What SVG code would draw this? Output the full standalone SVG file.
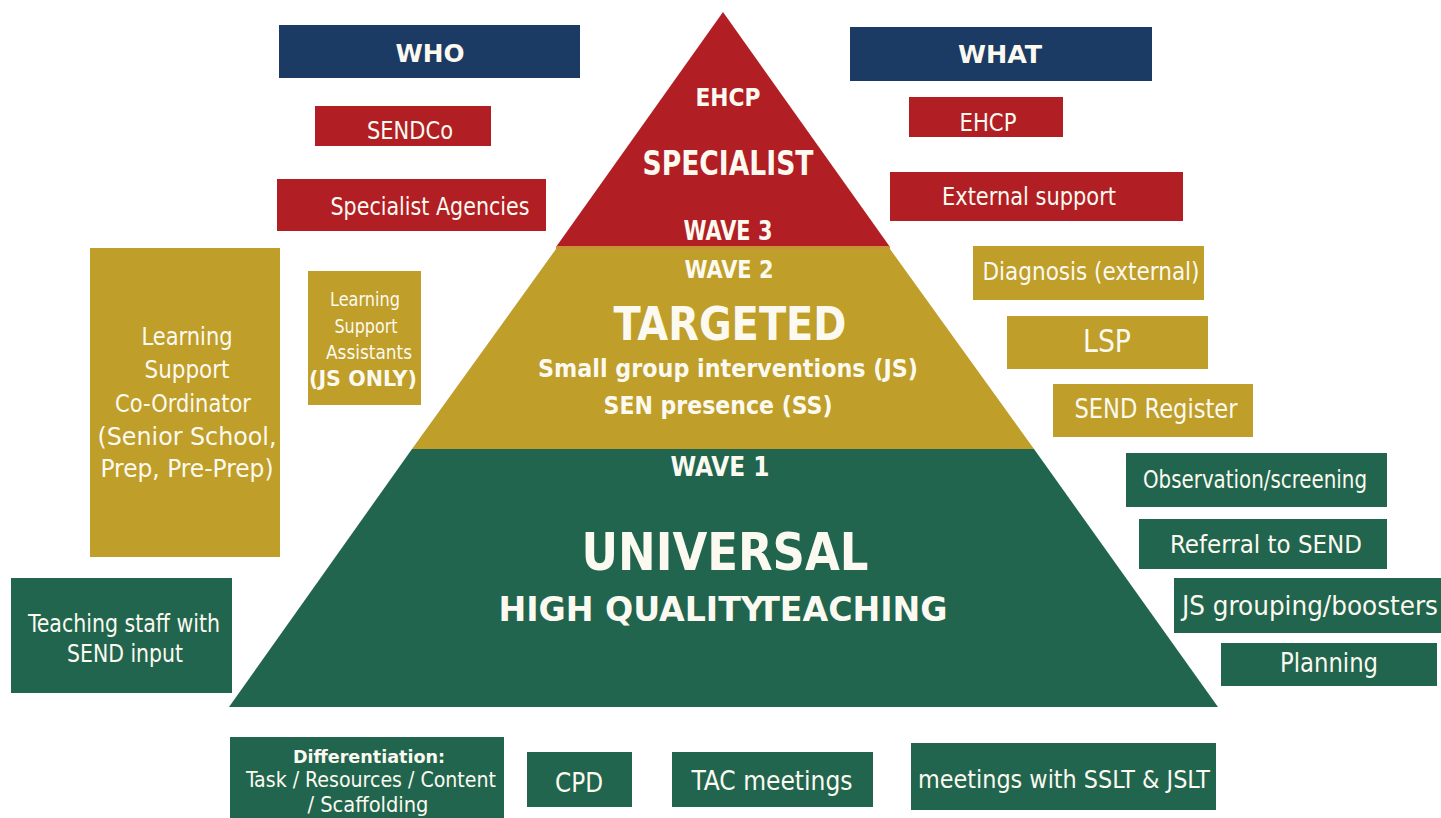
<svg xmlns="http://www.w3.org/2000/svg" width="1441" height="818" viewBox="0 0 1441 818">
  <style>
    .navy { fill: #1b3a64; }
    .red { fill: #b11e24; }
    .gold { fill: #bf9e2a; }
    .green { fill: #21654f; }
    text { fill: #fcfaf0; text-anchor: middle; font-family: "DejaVu Sans Condensed", "DejaVu Sans", sans-serif; font-stretch: condensed; }
    .b { font-weight: bold; }
  </style>

  <rect x="0" y="0" width="1441" height="818" fill="#ffffff"/>

  <!-- three-tier pyramid -->
  <g id="pyramid">
    <g id="tier-specialist">
      <polygon class="red" points="723,12 556,247 890,247"/>
      <rect x="556" y="246" width="334" height="3" fill="#c7923a"/>
      <text class="b" x="728" y="106" font-size="24" textLength="65" lengthAdjust="spacingAndGlyphs">EHCP</text>
      <text class="b" x="728" y="175" font-size="34" textLength="171" lengthAdjust="spacingAndGlyphs">SPECIALIST</text>
      <text class="b" x="728" y="240" font-size="26" textLength="89" lengthAdjust="spacingAndGlyphs">WAVE 3</text>
    </g>
    <g id="tier-targeted">
      <polygon class="gold" points="556,249 890,249 1034,449 412,449"/>
      <text class="b" x="729" y="278" font-size="24" textLength="89" lengthAdjust="spacingAndGlyphs">WAVE 2</text>
      <text class="b" x="730" y="340" font-size="47" textLength="233" lengthAdjust="spacingAndGlyphs">TARGETED</text>
      <text class="b" x="728" y="377" font-size="25" textLength="380" lengthAdjust="spacingAndGlyphs">Small group interventions (JS)</text>
      <text class="b" x="718" y="414" font-size="25" textLength="229" lengthAdjust="spacingAndGlyphs">SEN presence (SS)</text>
    </g>
    <g id="tier-universal">
      <polygon class="green" points="412,449 1034,449 1218,707 229,707"/>
      <text class="b" x="720" y="476" font-size="26" textLength="99" lengthAdjust="spacingAndGlyphs">WAVE 1</text>
      <text class="b" x="725" y="570" font-size="52" textLength="287" lengthAdjust="spacingAndGlyphs">UNIVERSAL</text>
      <text class="b" x="723" y="621" font-size="34" textLength="449" lengthAdjust="spacingAndGlyphs">HIGH QUALITY<tspan dx="-7">TEACHING</tspan></text>
    </g>
  </g>

  <!-- WHO column -->
  <g id="who">
    <rect class="navy" x="279" y="25" width="301" height="53"/>
    <text class="b" x="430" y="62" font-size="25" textLength="69" lengthAdjust="spacingAndGlyphs">WHO</text>
  </g>
  <g id="sendco">
    <rect class="red" x="315" y="106" width="176" height="40"/>
    <text x="410" y="139" font-size="25" textLength="86" lengthAdjust="spacingAndGlyphs">SENDCo</text>
  </g>
  <g id="specialist-agencies">
    <rect class="red" x="277" y="179" width="269" height="52"/>
    <text x="430" y="215" font-size="25" textLength="199" lengthAdjust="spacingAndGlyphs">Specialist Agencies</text>
  </g>
  <g id="ls-coordinator">
    <rect class="gold" x="90" y="248" width="190" height="309"/>
    <text x="187" y="345" font-size="25" textLength="91" lengthAdjust="spacingAndGlyphs">Learning</text>
    <text x="187" y="378" font-size="25" textLength="85" lengthAdjust="spacingAndGlyphs">Support</text>
    <text x="183" y="412" font-size="25" textLength="136" lengthAdjust="spacingAndGlyphs">Co-Ordinator</text>
    <text x="187" y="445" font-size="25" textLength="179" lengthAdjust="spacingAndGlyphs">(Senior School,</text>
    <text x="187" y="477" font-size="25" textLength="173" lengthAdjust="spacingAndGlyphs">Prep, Pre-Prep)</text>
  </g>
  <g id="ls-assistants">
    <rect class="gold" x="308" y="271" width="113" height="134"/>
    <text x="365" y="306" font-size="20" textLength="70" lengthAdjust="spacingAndGlyphs">Learning</text>
    <text x="366" y="333" font-size="20" textLength="63" lengthAdjust="spacingAndGlyphs">Support</text>
    <text x="369" y="359" font-size="20" textLength="86" lengthAdjust="spacingAndGlyphs">Assistants</text>
    <text class="b" x="363" y="386" font-size="21" textLength="108" lengthAdjust="spacingAndGlyphs">(JS ONLY)</text>
  </g>
  <g id="teaching-staff">
    <rect class="green" x="11" y="578" width="221" height="115"/>
    <text x="124" y="632" font-size="25" textLength="192" lengthAdjust="spacingAndGlyphs">Teaching staff with</text>
    <text x="125" y="662" font-size="25" textLength="116" lengthAdjust="spacingAndGlyphs">SEND input</text>
  </g>

  <!-- WHAT column -->
  <g id="what">
    <rect class="navy" x="850" y="27" width="302" height="54"/>
    <text class="b" x="1000" y="63" font-size="25" textLength="84" lengthAdjust="spacingAndGlyphs">WHAT</text>
  </g>
  <g id="ehcp">
    <rect class="red" x="909" y="97" width="154" height="40"/>
    <text x="988" y="131" font-size="25" textLength="57" lengthAdjust="spacingAndGlyphs">EHCP</text>
  </g>
  <g id="external-support">
    <rect class="red" x="890" y="172" width="293" height="49"/>
    <text x="1029" y="205" font-size="25" textLength="174" lengthAdjust="spacingAndGlyphs">External support</text>
  </g>
  <g id="diagnosis">
    <rect class="gold" x="973" y="246" width="231" height="54"/>
    <text x="1091" y="280" font-size="25" textLength="217" lengthAdjust="spacingAndGlyphs">Diagnosis (external)</text>
  </g>
  <g id="lsp">
    <rect class="gold" x="1007" y="316" width="201" height="53"/>
    <text x="1107" y="352" font-size="32" textLength="48" lengthAdjust="spacingAndGlyphs">LSP</text>
  </g>
  <g id="send-register">
    <rect class="gold" x="1053" y="384" width="200" height="53"/>
    <text x="1156" y="418" font-size="26" textLength="163" lengthAdjust="spacingAndGlyphs">SEND Register</text>
  </g>
  <g id="observation">
    <rect class="green" x="1126" y="453" width="261" height="54"/>
    <text x="1255" y="488" font-size="24" textLength="224" lengthAdjust="spacingAndGlyphs">Observation/screening</text>
  </g>
  <g id="referral">
    <rect class="green" x="1139" y="519" width="248" height="50"/>
    <text x="1266" y="553" font-size="25" textLength="192" lengthAdjust="spacingAndGlyphs">Referral to SEND</text>
  </g>
  <g id="js-grouping">
    <rect class="green" x="1174" y="578" width="267" height="55"/>
    <text x="1310" y="615" font-size="27" textLength="256" lengthAdjust="spacingAndGlyphs">JS grouping/boosters</text>
  </g>
  <g id="planning">
    <rect class="green" x="1221" y="643" width="216" height="43"/>
    <text x="1329" y="672" font-size="26" textLength="98" lengthAdjust="spacingAndGlyphs">Planning</text>
  </g>

  <!-- bottom row -->
  <g id="differentiation">
    <rect class="green" x="230" y="737" width="274" height="81"/>
    <text class="b" x="369" y="763" font-size="18" textLength="152" lengthAdjust="spacingAndGlyphs">Differentiation:</text>
    <text x="371" y="787" font-size="21" textLength="250" lengthAdjust="spacingAndGlyphs">Task / Resources / Content</text>
    <text x="368" y="812" font-size="21" textLength="121" lengthAdjust="spacingAndGlyphs">/ Scaffolding</text>
  </g>
  <g id="cpd">
    <rect class="green" x="527" y="752" width="105" height="55"/>
    <text x="579" y="792" font-size="26" textLength="48" lengthAdjust="spacingAndGlyphs">CPD</text>
  </g>
  <g id="tac-meetings">
    <rect class="green" x="672" y="752" width="201" height="55"/>
    <text x="772" y="790" font-size="26" textLength="161" lengthAdjust="spacingAndGlyphs">TAC meetings</text>
  </g>
  <g id="slt-meetings">
    <rect class="green" x="911" y="743" width="305" height="67"/>
    <text x="1064" y="788" font-size="25" textLength="292" lengthAdjust="spacingAndGlyphs">meetings with SSLT &amp; JSLT</text>
  </g>
</svg>
